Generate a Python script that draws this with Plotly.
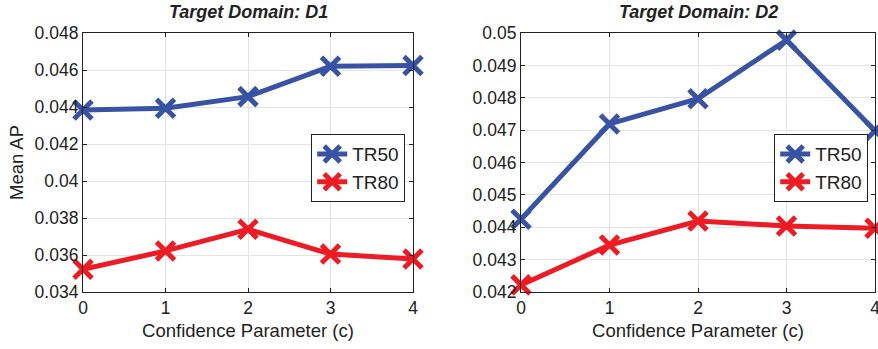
import plotly.graph_objects as go

c_vals = [0, 1, 2, 3, 4]
d1_tr50 = [0.04384, 0.04393, 0.04456, 0.04620, 0.04624]
d1_tr80 = [0.03523, 0.03622, 0.03739, 0.03605, 0.03578]
d2_tr50 = [0.04425, 0.04719, 0.04797, 0.04978, 0.04698]
d2_tr80 = [0.04222, 0.04345, 0.04419, 0.04404, 0.04397]
d1_ticks = [0.034, 0.036, 0.038, 0.04, 0.042, 0.044, 0.046, 0.048]
d2_ticks = [0.042, 0.043, 0.044, 0.045, 0.046, 0.047, 0.048, 0.049, 0.05]

BLUE = "#3953a4"
RED = "#ed1c24"
FONT = "Liberation Sans"
W, H = 878, 349

fig = go.Figure()

def add(x, y, name, color, xa, ya, legend):
    fig.add_trace(go.Scatter(
        x=x, y=y, name=name, mode="lines+markers",
        line=dict(color=color, width=5),
        marker=dict(symbol="x-thin-open", size=18, line=dict(color=color, width=5)),
        xaxis=xa, yaxis=ya, legend=legend, cliponaxis=False))

add(c_vals, d1_tr50, "TR50", BLUE, "x", "y", "legend")
add(c_vals, d1_tr80, "TR80", RED, "x", "y", "legend")
add(c_vals, d2_tr50, "TR50", BLUE, "x2", "y2", "legend2")
add(c_vals, d2_tr80, "TR80", RED, "x2", "y2", "legend2")

ybot = (H - 292) / H
ytop = (H - 33) / H

axis_common = dict(showline=True, linecolor="#222", linewidth=1.2, mirror="ticks",
                   ticks="inside", ticklen=4, tickcolor="#222", automargin=False,
                   ticklabeloverflow="allow",
                   showgrid=True, gridcolor="#e3e3e3", gridwidth=1, zeroline=False,
                   tickfont=dict(family=FONT, size=17.5, color="#222"))

xtitle = dict(text="Confidence Parameter (c)", font=dict(size=18.5), standoff=6)

legend_common = dict(y=(H - 134) / H, xanchor="right", yanchor="top",
                     bgcolor="white", bordercolor="#222", borderwidth=1.2,
                     font=dict(family=FONT, size=19, color="#222"),
                     tracegroupgap=0, itemwidth=30)

fig.update_layout(
    width=W, height=H, margin=dict(l=0, r=0, t=0, b=0),
    paper_bgcolor="white", plot_bgcolor="white",
    font=dict(family=FONT, color="#222"),
    xaxis=dict(domain=[83 / W, 413 / W], range=[0, 4], tickvals=c_vals,
               title=xtitle, ticklabelstandoff=0,
               anchor="y", **axis_common),
    yaxis=dict(domain=[ybot, ytop], range=[0.034, 0.048], tickvals=d1_ticks,
               ticktext=[("%g" % v) for v in d1_ticks],
               title=dict(text="Mean AP", font=dict(size=18.5), standoff=6),
               anchor="x", **axis_common),
    xaxis2=dict(domain=[521 / W, 875 / W], range=[0, 4], tickvals=c_vals,
                title=xtitle, ticklabelstandoff=0,
                anchor="y2", **axis_common),
    yaxis2=dict(domain=[ybot, ytop], range=[0.042, 0.05], tickvals=d2_ticks,
                ticktext=[("%g" % v) for v in d2_ticks],
                anchor="x2", **axis_common),
    legend=dict(x=405 / W, **legend_common),
    legend2=dict(x=868 / W, **legend_common),
    annotations=[
        dict(text="<b><i>Target Domain: D1</i></b>", x=(83 + 413) / 2 / W, y=(H - 12) / H,
             xref="paper", yref="paper", showarrow=False, xanchor="center", yanchor="middle",
             font=dict(family=FONT, size=18, color="#222")),
        dict(text="<b><i>Target Domain: D2</i></b>", x=(521 + 875) / 2 / W, y=(H - 12) / H,
             xref="paper", yref="paper", showarrow=False, xanchor="center", yanchor="middle",
             font=dict(family=FONT, size=18, color="#222")),
    ],
)

fig.write_html("out.html")
